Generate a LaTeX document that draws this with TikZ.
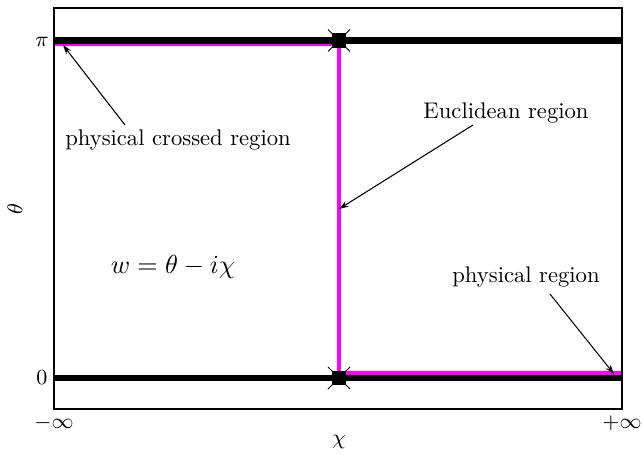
\documentclass[tikz,border=0pt]{standalone}
\usetikzlibrary{arrows.meta}
\definecolor{mag}{RGB}{255,0,255}
\begin{document}
\begin{tikzpicture}[x=0.42pt,y=-0.42pt,
  thickline/.style={line width=2.6pt,black},
  pathline/.style={line width=1.3pt,mag},
  pointer/.style={line width=0.45pt,-{Stealth[length=4pt,width=2.6pt]}},
  marker/.style={fill=black,minimum size=5.9pt,inner sep=0pt,draw=none},
  lbl/.style={inner sep=0pt,font=\fontsize{9.5}{11}\selectfont}]
\useasboundingbox (0,0) rectangle (642,453);
% magenta path
\coordinate (m1) at (54,44.5);
\coordinate (m2) at (339,44.5);
\coordinate (m3) at (339,373);
\coordinate (m4) at (622,373);
\draw[pathline] (m1) -- (m2) -- (m3) -- (m4);
% thick lines
\coordinate (tl) at (54,40.5);
\coordinate (tr) at (622,40.5);
\coordinate (bl) at (54,378);
\coordinate (br) at (622,378);
\draw[thickline] (tl) -- (tr);
\draw[thickline] (bl) -- (br);
% frame
\draw[line width=0.6pt] (54,8) rectangle (622,409);
% markers
\node[marker] (sq1) at (339,40.5) {};
\node[marker] (sq2) at (339,378) {};
\draw[line width=0.35pt] ([shift={(-11,-11)}]sq1.center) -- ([shift={(11,11)}]sq1.center);
\draw[line width=0.35pt] ([shift={(-11,11)}]sq1.center) -- ([shift={(11,-11)}]sq1.center);
\draw[line width=0.35pt] ([shift={(-11,-11)}]sq2.center) -- ([shift={(11,11)}]sq2.center);
\draw[line width=0.35pt] ([shift={(-11,11)}]sq2.center) -- ([shift={(11,-11)}]sq2.center);
% axis labels
\node[lbl] (pi) at (42,42) {$\pi$};
\node[lbl] (zero) at (42,378) {$0$};
\node[lbl] (minf) at (54,423) {$-\infty$};
\node[lbl] (pinf) at (622,423) {$+\infty$};
\node[lbl] (chi) at (339,442) {$\chi$};
\node[lbl,rotate=90] (theta) at (15,209) {$\theta$};
% texts
\node[lbl,font=\fontsize{10.9}{13}\selectfont] (w) at (173,267) {$w=\theta-i\chi$};
\node[lbl] (pcr) at (178,140) {physical crossed region};
\node[lbl] (eu) at (506,113) {Euclidean region};
\node[lbl] (pr) at (526,277) {physical region};
% arrows
\coordinate (a1s) at (125,125);
\coordinate (a1e) at (63,45);
\coordinate (a2s) at (473,125);
\coordinate (a2e) at (339,209);
\coordinate (a3s) at (550,294);
\coordinate (a3e) at (614,374);
\draw[pointer] (a1s) -- (a1e);
\draw[pointer] (a2s) -- (a2e);
\draw[pointer] (a3s) -- (a3e);
\end{tikzpicture}
\end{document}
